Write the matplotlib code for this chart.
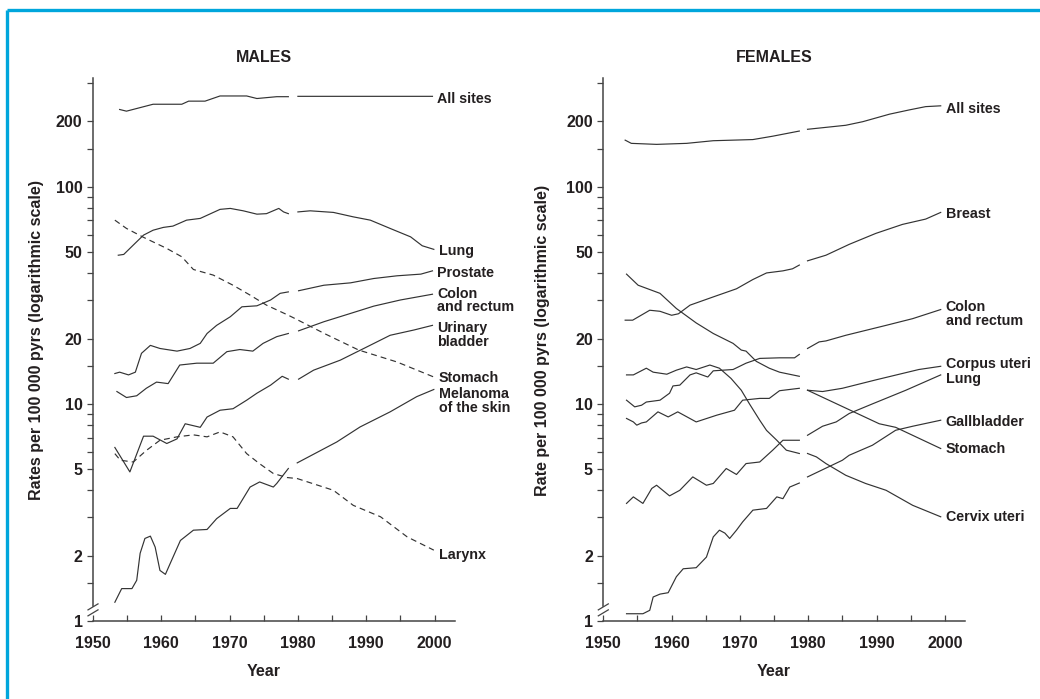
import numpy as np
import matplotlib.pyplot as plt
from matplotlib.lines import Line2D

plt.rcParams['font.family'] = ['Liberation Sans', 'DejaVu Sans']
plt.rcParams['font.weight'] = 'bold'

nan = np.nan
INK = '#231f20'
LINE = '#333333'

# ---- males: incidence per 100 000 person-years (gap between the two periods) ----
m_all_yr = [1953.9, 1954.9, 1958.8, 1963.0, 1964.0, 1966.4, 1968.6, 1972.5, 1974.0, 1976.9, 1978.6, nan, 1980.0, 1999.7]
m_all = [227, 223, 240, 240, 248, 248, 262, 262, 255, 260, 260, nan, 261, 261]

m_lung_yr = [1953.7, 1954.5, 1955.9, 1957.4, 1958.8, 1960.3, 1961.7, 1963.7, 1965.7, 1968.6, 1970.1, 1972.0,
             1974.0, 1975.4, 1977.2, 1977.9, 1978.6, nan, 1980.0, 1981.8, 1985.2, 1988.1, 1990.6, 1993.5,
             1996.5, 1998.2, 1999.9]
m_lung = [48.4, 48.8, 53.9, 59.9, 63.1, 65.0, 65.9, 70.2, 71.5, 78.7, 79.5, 77.5,
          74.8, 75.2, 79.5, 76.6, 75.2, nan, 76.6, 77.5, 76.2, 72.7, 70.2, 64.3,
          58.8, 53.5, 51.5]

m_prostate_yr = [1953.2, 1953.9, 1955.2, 1956.2, 1957.1, 1958.4, 1959.8, 1962.3, 1964.2, 1965.7, 1966.7, 1968.1,
                 1970.1, 1971.8, 1974.0, 1976.0, 1977.4, 1978.6, nan, 1980.1, 1983.8, 1987.7, 1991.1, 1994.5,
                 1998.0, 1999.7]
m_prostate = [13.8, 14.0, 13.6, 14.0, 17.1, 18.6, 18.0, 17.5, 18.0, 19.0, 21.1, 23.0,
              25.2, 28.0, 28.3, 30.1, 32.3, 32.8, nan, 33.2, 35.2, 36.1, 37.8, 38.9,
              39.6, 41.0]

m_colon_yr = [1953.5, 1954.9, 1956.4, 1957.8, 1959.3, 1961.0, 1962.7, 1965.2, 1967.6, 1969.6, 1971.5, 1973.4,
              1974.9, 1976.9, 1978.6, nan, 1980.1, 1983.8, 1987.7, 1991.1, 1995.0, 1999.7]
m_colon = [11.4, 10.7, 10.9, 11.8, 12.6, 12.4, 15.1, 15.4, 15.4, 17.4, 17.8, 17.5,
           19.0, 20.4, 21.1, nan, 21.7, 23.9, 26.1, 28.2, 30.1, 32.0]

m_bladder_yr = [1953.2, 1955.4, 1957.4, 1958.8, 1960.8, 1962.3, 1963.5, 1965.7, 1966.7, 1968.6, 1970.5, 1972.5,
                1974.0, 1976.0, 1977.7, 1978.6, nan, 1980.1, 1982.3, 1986.2, 1990.1, 1993.5, 1997.0, 1999.7]
m_bladder = [6.3, 4.86, 7.1, 7.1, 6.57, 6.9, 8.1, 7.8, 8.7, 9.35, 9.5, 10.4,
             11.2, 12.2, 13.4, 13.0, nan, 13.0, 14.3, 15.9, 18.3, 20.7, 21.9, 23.0]

m_stomach_yr = [1953.2, 1954.9, 1957.4, 1960.8, 1963.0, 1964.7, 1967.6, 1970.5, 1973.0, 1975.4, 1978.6, 1979.6,
                1984.0, 1988.9, 1994.5, 1999.9]
m_stomach = [70.2, 64.3, 58.5, 52.0, 47.6, 41.6, 39.2, 35.2, 31.7, 28.5, 25.6, 24.7,
             21.0, 17.7, 15.6, 13.3]

m_melanoma_yr = [1953.2, 1954.2, 1955.7, 1956.4, 1956.9, 1957.6, 1958.4, 1959.1, 1959.8, 1960.6, 1961.3, 1962.8,
                 1964.7, 1966.7, 1968.1, 1970.1, 1971.1, 1973.0, 1974.4, 1976.4, 1976.9, 1978.6, nan, 1979.9,
                 1985.7, 1989.1, 1993.5, 1997.4, 1999.9]
m_melanoma = [1.22, 1.41, 1.41, 1.54, 2.05, 2.40, 2.46, 2.19, 1.71, 1.64, 1.84, 2.35,
              2.62, 2.64, 2.96, 3.30, 3.30, 4.14, 4.37, 4.14, 4.30, 5.04, nan, 5.35,
              6.68, 7.83, 9.19, 10.8, 11.65]

m_larynx_yr = [1953.2, 1954.0, 1955.9, 1957.8, 1959.8, 1962.3, 1964.7, 1966.7, 1968.6, 1970.5, 1972.5, 1974.4,
               1976.4, 1978.4, 1979.9, 1985.2, 1988.1, 1992.1, 1996.0, 1999.9]
m_larynx = [5.9, 5.5, 5.4, 6.1, 6.8, 7.05, 7.2, 7.05, 7.43, 7.05, 5.9, 5.3,
            4.78, 4.58, 4.53, 4.0, 3.41, 3.02, 2.44, 2.12]

# ---- females ----
f_all_yr = [1953.2, 1954.1, 1957.8, 1962.2, 1966.1, 1971.9, 1974.8, 1978.7, nan, 1979.9, 1985.5, 1988.0,
            1991.9, 1994.8, 1997.2, 1999.4]
f_all = [164, 158.5, 156.8, 158.5, 163, 165, 171, 180.6, nan, 184, 192, 199.5,
         216, 226, 234, 236]

f_breast_yr = [1953.2, 1954.3, 1956.8, 1958.3, 1960.0, 1961.0, 1962.7, 1966.1, 1969.5, 1971.9, 1973.9, 1976.3,
               1977.7, 1978.7, nan, 1979.9, 1982.6, 1986.0, 1989.9, 1993.8, 1997.2, 1999.4]
f_breast = [24.3, 24.3, 27.0, 26.7, 25.6, 26.0, 28.5, 31.1, 33.9, 37.4, 40.1, 41.0,
            41.9, 43.6, nan, 45.6, 48.4, 54.3, 61.0, 67.1, 71.0, 76.2]

f_colon_yr = [1953.4, 1954.6, 1955.6, 1956.3, 1958.3, 1959.7, 1960.2, 1961.2, 1962.7, 1963.6, 1965.3, 1966.1,
              1969.0, 1970.9, 1972.9, 1975.8, 1978.0, 1978.7, nan, 1979.9, 1981.6, 1982.6, 1985.5, 1991.4,
              1995.3, 1999.4]
f_colon = [10.4, 9.69, 9.86, 10.2, 10.4, 11.2, 12.1, 12.2, 13.6, 13.9, 13.3, 14.2,
           14.4, 15.4, 16.2, 16.3, 16.3, 16.9, nan, 18.0, 19.3, 19.5, 20.7, 23.0,
           24.7, 27.2]

f_corpus_yr = [1953.4, 1954.4, 1954.9, 1955.6, 1956.3, 1958.0, 1959.5, 1960.9, 1963.6, 1966.6, 1969.2, 1970.4,
               1972.9, 1974.3, 1975.8, 1978.7, nan, 1979.9, 1982.1, 1985.0, 1989.9, 1996.2, 1999.4]
f_corpus = [8.57, 8.26, 7.98, 8.17, 8.26, 9.19, 8.71, 9.19, 8.26, 8.87, 9.35, 10.4,
            10.6, 10.6, 11.5, 11.8, nan, 11.56, 11.4, 11.8, 12.9, 14.4, 14.9]

f_lung_yr = [1953.4, 1954.4, 1955.8, 1957.1, 1957.8, 1959.7, 1961.2, 1963.1, 1965.1, 1966.1, 1968.0, 1969.5,
             1970.9, 1972.9, 1974.8, 1976.3, 1978.7, nan, 1979.9, 1982.1, 1984.1, 1986.0, 1989.4, 1994.3,
             1999.4]
f_lung = [3.48, 3.73, 3.48, 4.08, 4.22, 3.77, 4.0, 4.61, 4.22, 4.3, 5.04, 4.73,
          5.31, 5.4, 6.12, 6.8, 6.8, nan, 7.17, 7.89, 8.26, 9.03, 10.0, 11.56,
          13.6]

f_gall_yr = [1953.4, 1955.8, 1956.8, 1957.3, 1958.3, 1959.5, 1960.7, 1961.7, 1963.6, 1965.1, 1966.1, 1967.0,
             1967.8, 1968.5, 1969.5, 1970.4, 1971.9, 1973.9, 1975.4, 1976.3, 1977.3, 1978.7, nan, 1979.9,
             1985.0, 1986.0, 1989.4, 1992.8, 1995.3, 1999.4]
f_gall = [1.08, 1.08, 1.12, 1.29, 1.33, 1.35, 1.60, 1.74, 1.76, 1.97, 2.44, 2.62,
          2.54, 2.40, 2.62, 2.86, 3.24, 3.30, 3.73, 3.66, 4.14, 4.32, nan, 4.61,
          5.5, 5.8, 6.45, 7.56, 7.89, 8.41]

f_stomach_yr = [1953.4, 1955.1, 1958.3, 1960.7, 1963.6, 1966.1, 1969.0, 1970.2, 1970.9, 1972.4, 1974.3, 1975.8,
                1978.7, nan, 1979.9, 1990.4, 1992.8, 1999.4]
f_stomach = [39.6, 35.2, 32.3, 27.5, 23.6, 21.1, 19.0, 17.7, 17.5, 15.7, 14.6, 14.0,
             13.4, nan, 11.56, 8.1, 7.8, 6.23]

f_cervix_yr = [1953.4, 1954.4, 1956.3, 1957.3, 1959.3, 1960.7, 1962.2, 1963.6, 1965.6, 1967.0, 1968.7, 1970.2,
               1971.4, 1972.9, 1973.9, 1975.4, 1976.8, 1978.7, nan, 1979.9, 1981.2, 1982.6, 1985.5, 1988.4,
               1991.4, 1995.3, 1999.4]
f_cervix = [13.6, 13.6, 14.6, 14.0, 13.7, 14.3, 14.8, 14.4, 15.1, 14.6, 13.1, 11.56,
            10.0, 8.41, 7.55, 6.8, 6.12, 5.91, nan, 5.91, 5.7, 5.31, 4.69, 4.3,
            4.0, 3.41, 3.02]

males = [
    ("All sites", m_all_yr, m_all, '-'),
    ("Lung", m_lung_yr, m_lung, '-'),
    ("Prostate", m_prostate_yr, m_prostate, '-'),
    ("Colon\nand rectum", m_colon_yr, m_colon, '-'),
    ("Urinary\nbladder", m_bladder_yr, m_bladder, '-'),
    ("Stomach", m_stomach_yr, m_stomach, '--'),
    ("Melanoma\nof the skin", m_melanoma_yr, m_melanoma, '-'),
    ("Larynx", m_larynx_yr, m_larynx, '--'),
]
females = [
    ("All sites", f_all_yr, f_all, '-'),
    ("Breast", f_breast_yr, f_breast, '-'),
    ("Colon\nand rectum", f_colon_yr, f_colon, '-'),
    ("Corpus uteri", f_corpus_yr, f_corpus, '-'),
    ("Lung", f_lung_yr, f_lung, '-'),
    ("Gallbladder", f_gall_yr, f_gall, '-'),
    ("Stomach", f_stomach_yr, f_stomach, '-'),
    ("Cervix uteri", f_cervix_yr, f_cervix, '-'),
]

# vertical nudge of each end label (points, positive = down), so that crowded labels don't collide
males_nudge = [1.5, 0.7, 0.7, 0.7, 3, 0.4, 4.3, 3]
females_nudge = [1.5, 0.7, -0.7, -2.5, 2.5, 0.7, 0, 0]

major_y = [1, 2, 5, 10, 20, 50, 100, 200]
minor_y = [1.5, 3, 4, 6, 7, 8, 9, 15, 30, 40, 60, 70, 80, 90, 150, 300]
year_ticks = [1950, 1960, 1970, 1980, 1990, 2000]

W, H = 1040, 699
fig = plt.figure(figsize=(W / 100, H / 100), dpi=100)


def draw_panel(left_px, series, nudges, title, ylabel, ylabel_x):
    ax = fig.add_axes([left_px / W, 1 - 621 / H, 362 / W, 543 / H])
    ax.set_yscale('log')
    ax.set_xlim(1950, 2003)
    ax.set_ylim(1, 317)

    for (name, yr, val, style), dy in zip(series, nudges):
        if style == '--':
            ax.plot(yr, val, color=LINE, lw=0.85, dashes=(5, 3.5))
        else:
            ax.plot(yr, val, color=LINE, lw=0.85)
        yr = np.array(yr)
        val = np.array(val)
        ok = ~np.isnan(val)
        x_end, y_end = yr[ok][-1], val[ok][-1]
        if "\n" in name:
            ax.annotate(name, (x_end, y_end), xytext=(3.5, 6 - dy), textcoords='offset points',
                        ha='left', va='top', fontsize=10.3, fontweight='bold', color=INK,
                        linespacing=0.95, annotation_clip=False)
        else:
            ax.annotate(name, (x_end, y_end), xytext=(3.5, -0.5 - dy), textcoords='offset points',
                        ha='left', va='center', fontsize=10.3, fontweight='bold', color=INK,
                        annotation_clip=False)

    for s in ['top', 'right']:
        ax.spines[s].set_visible(False)
    ax.spines['left'].set_bounds(1.17, 317)
    ax.spines['bottom'].set_bounds(1950, 2003)
    for s in ['left', 'bottom']:
        ax.spines[s].set_color('#444444')
        ax.spines[s].set_linewidth(1.1)

    ax.set_yticks(major_y)
    ax.set_yticklabels([str(v) for v in major_y])
    ax.set_yticks(minor_y, minor=True)
    ax.yaxis.set_minor_formatter(plt.NullFormatter())
    ax.tick_params(axis='y', which='both', direction='out', length=4.5, width=0.9,
                   color='#444444', pad=3, labelsize=11.5, labelcolor=INK)

    ax.set_xticks(year_ticks)
    ax.set_xticks(np.arange(1955, 2001, 10), minor=True)
    ax.tick_params(axis='x', which='both', direction='in', length=4.5, width=0.9,
                   color='#444444', pad=11, labelsize=11.5, labelcolor=INK)
    for lab in ax.get_xticklabels() + ax.get_yticklabels():
        lab.set_fontweight('bold')

    # axis break on the log scale near 1
    bx = 5 / 362
    by = 3 / 543
    for yc in (0.015, 0.026):
        ax.plot([-bx, bx], [yc - by, yc + by], transform=ax.transAxes, color='#444444',
                lw=0.9, clip_on=False)

    ax.text(1975, 1 + 20 / 543, title, transform=ax.get_xaxis_transform(), ha='center',
            va='center', fontsize=11.5, fontweight='bold', color=INK)
    ax.text(1975, -51 / 543, "Year", transform=ax.get_xaxis_transform(), ha='center',
            va='center', fontsize=11.5, fontweight='bold', color=INK)
    fig.text(ylabel_x / W, 1 - 340 / H, ylabel, rotation=90, ha='center', va='center',
             fontsize=11.5, fontweight='bold', color=INK)
    return ax


draw_panel(93, males, males_nudge, "MALES", "Rates per 100 000 pyrs (logarithmic scale)", 37)
draw_panel(603.3, females, females_nudge, "FEMALES", "Rate per 100 000 pyrs (logarithmic scale)", 543)

# blue frame along the top and left edge
frame = '#00a6dc'
fig.add_artist(Line2D([7 / W, 1], [1 - 10 / H, 1 - 10 / H], color=frame, lw=2.4,
                      transform=fig.transFigure, solid_capstyle='butt'))
fig.add_artist(Line2D([7 / W, 7 / W], [0, 1 - 10 / H], color=frame, lw=2.4,
                      transform=fig.transFigure, solid_capstyle='butt'))

fig.savefig("out.png", dpi=100)
